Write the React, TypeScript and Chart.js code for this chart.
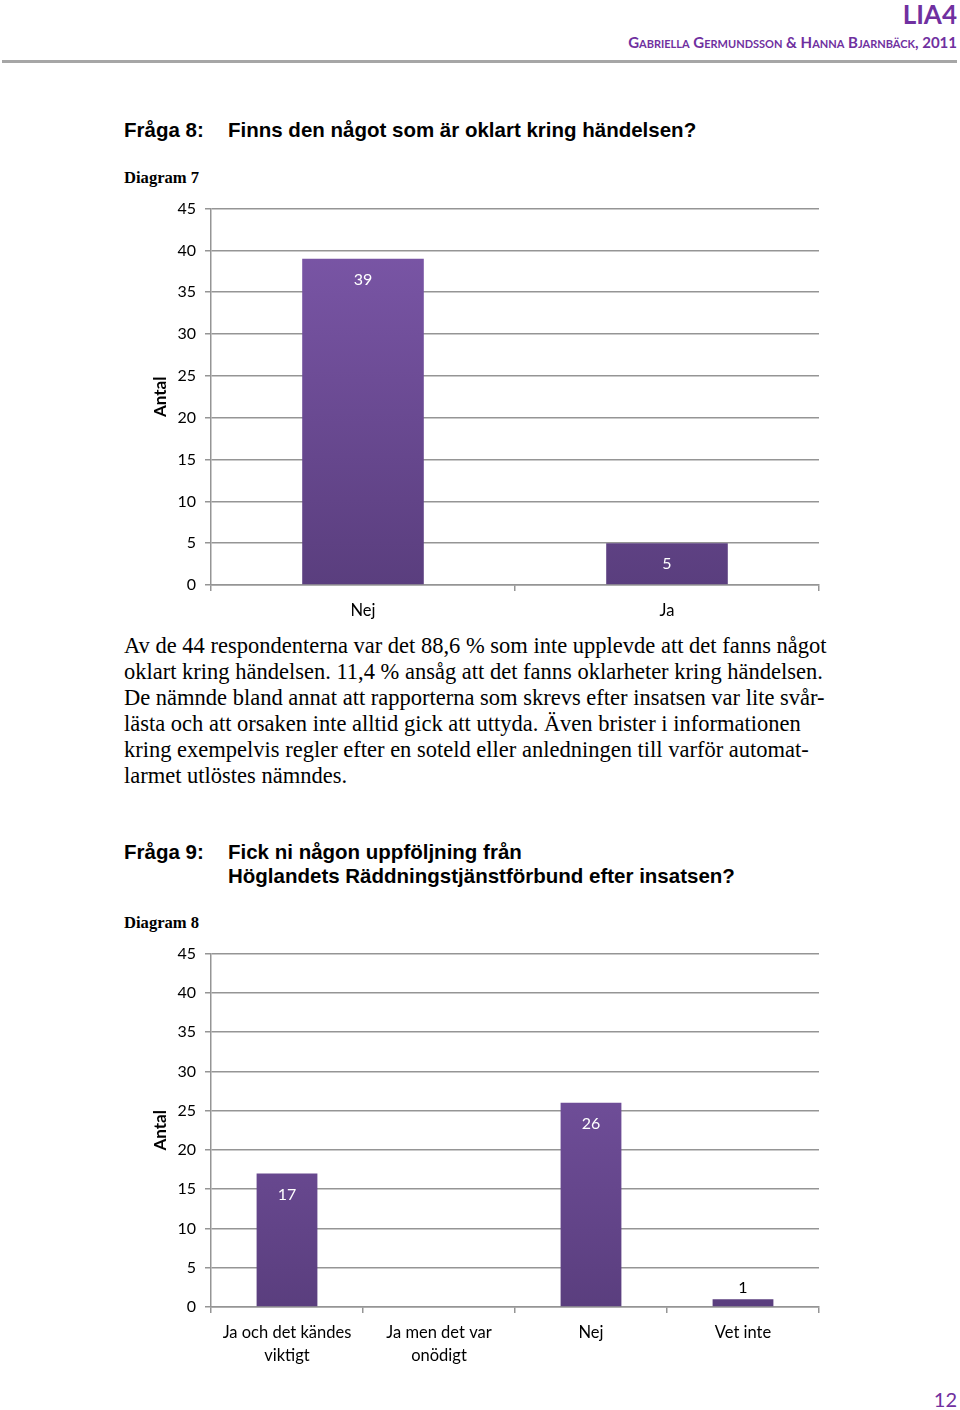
import React, { useEffect, useRef } from "react";
import { Chart, registerables } from "chart.js";

Chart.register(...registerables);

if (typeof document !== "undefined") {
  document.body.style.margin = "0";
}

const chart7Categories: string[] = ["Nej", "Ja"];
const chart7Values: number[] = [39, 5];

const chart8Categories: (string | string[])[] = [
  ["Ja och det kändes", "viktigt"],
  ["Ja men det var", "onödigt"],
  "Nej",
  "Vet inte",
];
const chart8Values: number[] = [17, 0, 26, 1];

const yTickMax = 45;
const yTickStep = 5;
const axisTitle = "Antal";

const CHART_FONT = "Lato, 'Open Sans', 'Liberation Sans', sans-serif";
const GRID = "#959595";

const valueLabels = {
  id: "valueLabels",
  afterDatasetsDraw(chart: any) {
    const ctx = chart.ctx;
    const meta = chart.getDatasetMeta(0);
    const data = chart.data.datasets[0].data as number[];
    ctx.save();
    ctx.font = `16px ${CHART_FONT}`;
    ctx.textAlign = "center";
    ctx.textBaseline = "middle";
    meta.data.forEach((el: any, i: number) => {
      const v = data[i];
      if (!v) return;
      const h = el.base - el.y;
      if (h > 30) {
        ctx.fillStyle = "#ffffff";
        ctx.fillText(String(v), el.x, el.y + 21);
      } else {
        ctx.fillStyle = "#000000";
        ctx.fillText(String(v), el.x, el.y - 11);
      }
    });
    ctx.restore();
  },
};

function makeGradient(context: any) {
  const chart = context.chart;
  const area = chart.chartArea;
  if (!area) return "#6b4b95";
  const g = chart.ctx.createLinearGradient(0, area.top, 0, area.bottom);
  g.addColorStop(0, "#7d58aa");
  g.addColorStop(1, "#5a3e7e");
  return g;
}

function BarChart(props: {
  labels: (string | string[])[];
  values: number[];
  barPct: number;
  height: number;
  xHeight: number;
}) {
  const ref = useRef<HTMLCanvasElement | null>(null);
  useEffect(() => {
    if (!ref.current) return;
    const chart = new Chart(ref.current, {
      type: "bar",
      data: {
        labels: props.labels as any,
        datasets: [
          {
            data: props.values,
            backgroundColor: makeGradient as any,
            borderWidth: 0,
            categoryPercentage: 1,
            barPercentage: props.barPct,
          },
        ],
      },
      options: {
        animation: false,
        responsive: false,
        maintainAspectRatio: false,
        layout: { padding: { top: 17, right: 21, bottom: 0, left: 0 } },
        plugins: {
          legend: { display: false },
          tooltip: { enabled: false },
        },
        scales: {
          x: {
            grid: {
              display: true,
              drawOnChartArea: false,
              drawTicks: true,
              tickLength: 6,
              color: GRID,
              lineWidth: 1.5,
              offset: true,
            },
            border: { display: true, color: GRID, width: 1.5 },
            ticks: {
              color: "#000000",
              font: { family: CHART_FONT, size: 16.5, lineHeight: 1.42 },
              padding: 8,
              maxRotation: 0,
              autoSkip: false,
            },
            afterFit(scale: any) {
              scale.height = props.xHeight;
            },
          },
          y: {
            min: 0,
            max: yTickMax,
            ticks: {
              stepSize: yTickStep,
              color: "#000000",
              font: { family: CHART_FONT, size: 16 },
              padding: 9,
            },
            grid: {
              color: GRID,
              lineWidth: 1.5,
              tickLength: 6,
            },
            border: { display: true, color: GRID, width: 1.5 },
            title: {
              display: true,
              text: axisTitle,
              color: "#000000",
              font: { family: CHART_FONT, size: 17, weight: "bold" },
              padding: { top: 10, bottom: 0 },
            },
            afterFit(scale: any) {
              scale.width = 71;
            },
          },
        },
      },
      plugins: [valueLabels],
    });
    return () => chart.destroy();
  }, []);
  return (
    <canvas
      ref={ref}
      width={700}
      height={props.height}
      style={{ width: 700, height: props.height, display: "block" }}
    />
  );
}

const purple = "#7030a0";
const abs = (left: number, top: number): React.CSSProperties => ({ position: "absolute", left, top });

export default function App() {
  const heading: React.CSSProperties = {
    fontFamily: "'Liberation Sans', Arial, sans-serif",
    fontWeight: "bold",
    fontSize: 20.5,
    lineHeight: "24px",
    color: "#000",
    margin: 0,
    whiteSpace: "nowrap",
  };
  const diag: React.CSSProperties = {
    fontFamily: "'Liberation Serif', 'Times New Roman', serif",
    fontWeight: "bold",
    fontSize: 16.6,
    lineHeight: "20px",
    color: "#000",
    whiteSpace: "nowrap",
  };
  const body: React.CSSProperties = {
    fontFamily: "'Liberation Serif', 'Times New Roman', serif",
    fontSize: 22.5,
    lineHeight: "26px",
    color: "#000",
    whiteSpace: "nowrap",
  };
  return (
    <div style={{ position: "relative", width: 960, height: 1410, background: "#fff", overflow: "hidden" }}>
      <div style={{ position: "absolute", right: 3, top: -2, fontFamily: "Lato, 'Open Sans', sans-serif", fontWeight: "bold", fontSize: 26, color: purple, lineHeight: "32px" }}>
        LIA4
      </div>
      <div style={{ position: "absolute", right: 3, top: 32, fontFamily: "Lato, 'Open Sans', sans-serif", fontWeight: "bold", fontSize: 15, color: purple, lineHeight: "20px", fontVariant: "small-caps", whiteSpace: "nowrap" }}>
        Gabriella Germundsson &amp; Hanna Bjarnbäck, 2011
      </div>
      <div style={{ position: "absolute", left: 2, top: 60, width: 955, height: 3, background: "#a6a6a6" }} />

      <div style={{ ...abs(124, 118), ...heading }}>Fråga 8:</div>
      <div style={{ ...abs(228, 118), ...heading }}>Finns den något som är oklart kring händelsen?</div>
      <div style={{ ...abs(124, 168), ...diag }}>Diagram 7</div>

      <div style={abs(140, 190)}>
        <BarChart labels={chart7Categories} values={chart7Values} barPct={0.4} height={440} xHeight={45} />
      </div>

      <div style={{ ...abs(124, 633), ...body }}>
        Av de 44 respondenterna var det 88,6 % som inte upplevde att det fanns något<br />
        oklart kring händelsen. 11,4 % ansåg att det fanns oklarheter kring händelsen.<br />
        De nämnde bland annat att rapporterna som skrevs efter insatsen var lite svår-<br />
        lästa och att orsaken inte alltid gick att uttyda. Även brister i informationen<br />
        kring exempelvis regler efter en soteld eller anledningen till varför automat-<br />
        larmet utlöstes nämndes.
      </div>

      <div style={{ ...abs(124, 840), ...heading }}>Fråga 9:</div>
      <div style={{ ...abs(228, 840), ...heading }}>
        Fick ni någon uppföljning från<br />Höglandets Räddningstjänstförbund efter insatsen?
      </div>
      <div style={{ ...abs(124, 913), ...diag }}>Diagram 8</div>

      <div style={abs(140, 935)}>
        <BarChart labels={chart8Categories} values={chart8Values} barPct={0.4} height={440} xHeight={68} />
      </div>

      <div style={{ position: "absolute", right: 3, top: 1386, fontFamily: "Lato, 'Open Sans', sans-serif", fontSize: 20, color: purple, lineHeight: "26px" }}>
        12
      </div>
    </div>
  );
}
